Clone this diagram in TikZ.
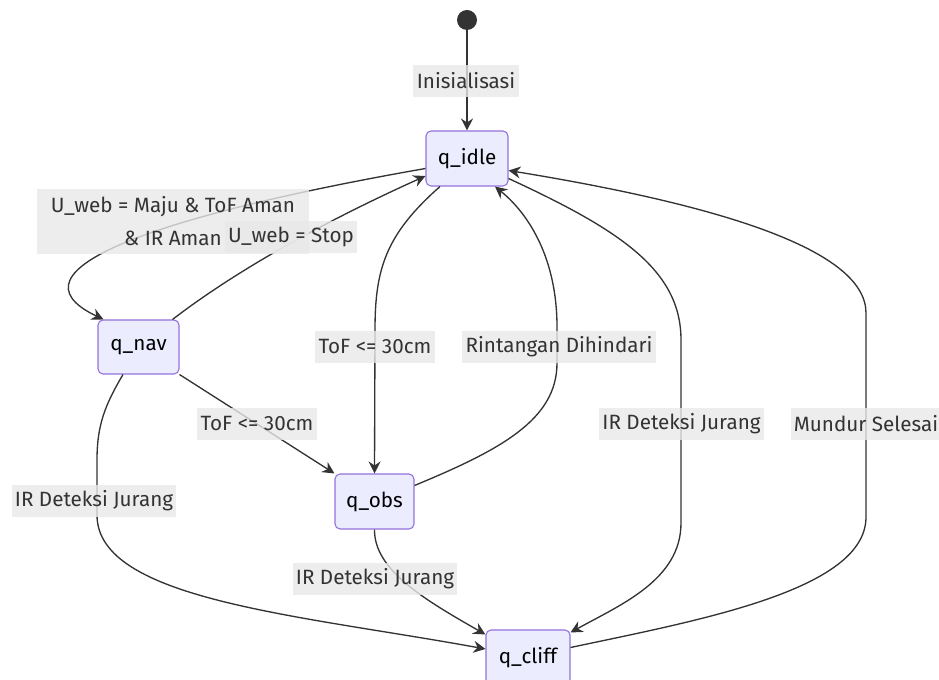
\documentclass[tikz,border=0pt]{standalone}
\usepackage{fontspec}
\setmainfont{Fira Sans}
\usetikzlibrary{arrows.meta}
\definecolor{nodefill}{HTML}{ECECFF}
\definecolor{nodeborder}{HTML}{9370DB}
\definecolor{lblfill}{HTML}{E8E8E8}
\definecolor{ink}{HTML}{333333}
\begin{document}
\begin{tikzpicture}[x=0.75pt,y=-0.75pt,
  state/.style={draw=nodeborder, fill=nodefill, rounded corners=3.75pt, line width=0.8pt,
    font=\fontsize{15.5}{18}\selectfont, text=black, inner sep=0pt},
  lab/.style={fill=lblfill, fill opacity=0.8, text opacity=1, inner xsep=2.5pt, inner ysep=0pt,
    minimum height=24pt, font=\fontsize{15.5}{24.75}\selectfont, text=ink},
  tr/.style={draw=ink, line width=1pt, -{Stealth[length=9pt,width=9pt,inset=3pt]}}]
\useasboundingbox (0,0) rectangle (939,680);
% states
\node[circle, fill=ink, minimum size=15pt, inner sep=0pt] (start) at (467,20) {};
\node[state, minimum width=61.5pt, minimum height=41.25pt] (idle) at (467,158.5) {q\_idle};
\node[state, minimum width=60.75pt, minimum height=40.5pt] (nav) at (138.5,347) {q\_nav};
\node[state, minimum width=59.25pt, minimum height=41.25pt] (obs) at (374.5,501.5) {q\_obs};
\node[state, minimum width=63pt, minimum height=41.25pt] (cliff) at (528,657.5) {q\_cliff};
% transitions
\draw[tr] (start) -- (idle);
\draw[tr] ([shift={(0,10)}]idle.west) .. controls (160,215) and (0,270) .. ([shift={(-35,0)}]nav.north);
\draw[tr] ([shift={(34,0)}]nav.north) .. controls (250,260) and (350,210) .. ([shift={(0,17.5)}]idle.west);
\draw[tr] ([shift={(-27,0)}]idle.south) .. controls (385,235) and (375,270) .. (375,330) -- (obs.north);
\draw[tr] ([shift={(0,-16)}]obs.east) .. controls (500,450) and (557,420) .. (557,363) -- (557,327)
  .. controls (557,260) and (530,215) .. ([shift={(28,0)}]idle.south);
\draw[tr] (nav.south east) -- (obs.north west);
\draw[tr] ([shift={(-15.5,0)}]nav.south) .. controls (105,405) and (97,425) .. (97,460) -- (97,515)
  .. controls (97,600) and (300,615) .. ([shift={(0,-8.5)}]cliff.west);
\draw[tr] (obs.south) .. controls (374,570) and (425,600) .. ([shift={(0,5)}]cliff.north west);
\draw[tr] ([shift={(0,20)}]idle.east) .. controls (620,230) and (681,270) .. (681,340) -- (681,523)
  .. controls (681,580) and (620,605) .. ([shift={(0,3)}]cliff.north east);
\draw[tr] ([shift={(0,-10)}]cliff.east) .. controls (700,620) and (866,590) .. (866,517) -- (866,313)
  .. controls (866,250) and (720,205) .. ([shift={(0,12)}]idle.east);
% labels
\node[lab] (l1) at (466,81) {Inisialisasi};
\node[lab, align=center, minimum height=48.75pt, minimum width=204pt] (l2) at (173,221.5) {U\_web = Maju \& ToF Aman\\\& IR Aman};
\node[lab] (l3) at (291,237) {U\_web = Stop};
\node[lab] (l4) at (375,347) {ToF <= 30cm};
\node[lab] (l5) at (559,347) {Rintangan Dihindari};
\node[lab] (l6) at (257,424) {ToF <= 30cm};
\node[lab] (l7) at (94,501) {IR Deteksi Jurang};
\node[lab] (l8) at (375,579) {IR Deteksi Jurang};
\node[lab] (l9) at (681.5,424) {IR Deteksi Jurang};
\node[lab] (l10) at (866,424) {Mundur Selesai};
\end{tikzpicture}
\end{document}
